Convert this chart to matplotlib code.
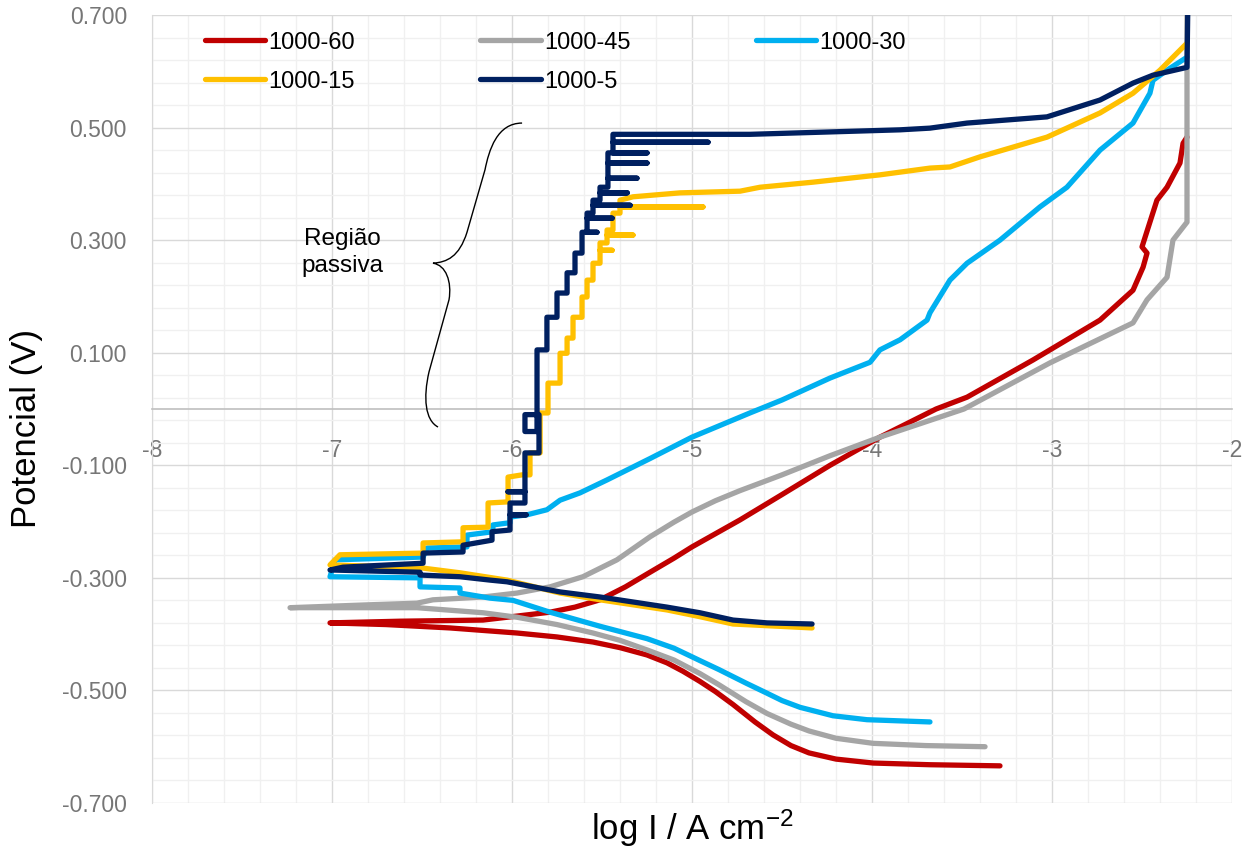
import matplotlib.pyplot as plt
from matplotlib.path import Path
from matplotlib.patches import PathPatch
from matplotlib.ticker import MultipleLocator, FixedLocator, FuncFormatter

plt.rcParams['font.family'] = ['Liberation Sans', 'DejaVu Sans']
plt.rcParams['mathtext.fontset'] = 'custom'
plt.rcParams['mathtext.rm'] = 'Liberation Sans'
plt.rcParams['mathtext.default'] = 'regular'

# curve: ramo catodico (da destra verso Ecorr) poi ramo anodico
x60 = [-3.289, -3.678, -3.994, -4.2, -4.35, -4.45, -4.55, -4.65, -4.772, -4.87, -4.956, -5.05, -5.139, -5.25,
       -5.4, -5.55, -5.75, -5.972, -6.344, -6.7, -7.011,
       -6.622, -6.161, -5.789, -5.65, -5.511, -5.37, -5.233, -5.1, -5.0, -4.733, -4.5, -4.233, -3.956, -3.644,
       -3.472, -3.106, -2.733, -2.55, -2.494, -2.472, -2.5, -2.417, -2.361, -2.289, -2.272, -2.25]
y60 = [-0.634, -0.632, -0.629, -0.622, -0.611, -0.598, -0.579, -0.556, -0.525, -0.502, -0.484, -0.466, -0.451, -0.437,
       -0.424, -0.414, -0.405, -0.398, -0.389, -0.383, -0.380,
       -0.377, -0.375, -0.361, -0.352, -0.339, -0.316, -0.290, -0.265, -0.245, -0.197, -0.152, -0.100, -0.050, 0.0,
       0.021, 0.087, 0.158, 0.211, 0.252, 0.277, 0.288, 0.371, 0.394, 0.437, 0.472, 0.483]

x45 = [-3.372, -3.7, -3.994, -4.2, -4.35, -4.45, -4.583, -4.7, -4.85, -4.956, -5.1, -5.25, -5.4, -5.55, -5.75,
       -5.972, -6.161, -6.528, -7.233,
       -6.806, -6.528, -6.439, -6.161, -5.972, -5.789, -5.606, -5.417, -5.233, -5.1, -5.0, -4.87, -4.733, -4.5,
       -4.233, -3.956, -3.489, -3.011, -2.55, -2.472, -2.361, -2.328, -2.25, -2.25]
y45 = [-0.600, -0.598, -0.594, -0.585, -0.572, -0.560, -0.541, -0.520, -0.490, -0.470, -0.446, -0.428, -0.411, -0.398,
       -0.383, -0.370, -0.362, -0.353, -0.353,
       -0.348, -0.345, -0.339, -0.334, -0.327, -0.316, -0.298, -0.268, -0.227, -0.201, -0.183, -0.163, -0.145, -0.117,
       -0.083, -0.050, 0.0, 0.082, 0.153, 0.194, 0.234, 0.300, 0.332, 0.75]

x30 = [-3.678, -4.028, -4.217, -4.4, -4.5, -4.583, -4.7, -4.85, -4.956, -5.1, -5.25, -5.511, -5.789, -5.994, -6.122,
       -6.289, -6.289, -6.511, -6.511, -7.011,
       -6.983, -6.494, -6.472, -6.25, -6.25, -6.106, -6.106, -6.011, -6.011, -5.917, -5.806, -5.733, -5.622, -5.472,
       -5.233, -5.0, -4.678, -4.5, -4.233, -4.011, -3.956, -3.844, -3.694, -3.678, -3.567, -3.472, -3.289, -3.067,
       -2.917, -2.733, -2.55, -2.456, -2.439, -2.361, -2.25]
y30 = [-0.556, -0.552, -0.545, -0.530, -0.518, -0.505, -0.487, -0.463, -0.447, -0.425, -0.408, -0.386, -0.361, -0.340,
       -0.336, -0.327, -0.318, -0.316, -0.300, -0.298,
       -0.268, -0.263, -0.247, -0.245, -0.224, -0.218, -0.206, -0.202, -0.192, -0.188, -0.179, -0.162, -0.149, -0.126,
       -0.088, -0.050, -0.007, 0.016, 0.055, 0.083, 0.105, 0.123, 0.158, 0.171, 0.229, 0.259, 0.300, 0.359,
       0.394, 0.460, 0.508, 0.561, 0.584, 0.602, 0.625]

x15 = [-4.333, -4.583, -4.772, -4.956, -5.139, -5.511, -5.733, -6.028, -6.289, -6.511, -7.011,
       -6.956, -6.494, -6.494, -6.272, -6.272, -6.133, -6.133, -6.022, -6.022, -5.944, -5.9, -5.9, -5.844, -5.844,
       -5.8, -5.8, -5.733, -5.733, -5.694, -5.694, -5.661, -5.661, -5.611, -5.611, -5.583, -5.583, -5.55, -5.55,
       -5.511, -5.511, -5.444, -5.511, -5.511, -5.472, -5.472, -5.328, -5.472, -5.472, -5.439, -5.439, -5.4, -5.4,
       -4.939, -5.4, -5.4, -5.328, -5.067, -4.733, -4.622, -4.328, -3.956, -3.678, -3.567, -3.4, -3.028, -2.733,
       -2.55, -2.4, -2.25]
y15 = [-0.389, -0.385, -0.382, -0.369, -0.357, -0.339, -0.327, -0.304, -0.291, -0.282, -0.277,
       -0.259, -0.256, -0.238, -0.236, -0.211, -0.210, -0.167, -0.165, -0.121, -0.117, -0.117, -0.078, -0.078, -0.007,
       -0.007, 0.046, 0.046, 0.099, 0.099, 0.126, 0.126, 0.163, 0.163, 0.199, 0.199, 0.229, 0.229, 0.259,
       0.259, 0.282, 0.282, 0.282, 0.295, 0.295, 0.309, 0.309, 0.309, 0.318, 0.318, 0.348, 0.348, 0.359,
       0.359, 0.359, 0.371, 0.377, 0.384, 0.387, 0.394, 0.403, 0.416, 0.428, 0.430, 0.448, 0.483, 0.526,
       0.561, 0.602, 0.650]

x5 = [-4.333, -4.583, -4.772, -4.956, -5.139, -5.511, -5.733, -6.028, -6.122, -6.289, -6.511, -6.511, -7.011,
      -6.939, -6.494, -6.494, -6.272, -6.272, -6.111, -6.111, -6.011, -6.011, -5.922, -6.011, -6.011, -5.928, -5.928,
      -6.022, -5.928, -5.928, -5.85, -5.85, -5.928, -5.928, -5.861, -5.861, -5.806, -5.806, -5.75, -5.75, -5.694,
      -5.694, -5.65, -5.65, -5.611, -5.611, -5.528, -5.583, -5.583, -5.444, -5.583, -5.583, -5.55, -5.55, -5.344,
      -5.55, -5.55, -5.511, -5.511, -5.36, -5.511, -5.511, -5.467, -5.467, -5.306, -5.467, -5.467, -5.25, -5.467,
      -5.467, -5.25, -5.439, -5.439, -4.911, -5.439, -5.439, -4.678, -3.844, -3.678, -3.472, -3.028, -2.733, -2.55,
      -2.44, -2.25, -2.244]
y5 = [-0.382, -0.380, -0.375, -0.362, -0.352, -0.334, -0.325, -0.307, -0.304, -0.298, -0.295, -0.290, -0.286,
      -0.281, -0.274, -0.256, -0.254, -0.242, -0.233, -0.218, -0.215, -0.188, -0.188, -0.188, -0.167, -0.167, -0.147,
      -0.147, -0.147, -0.078, -0.078, -0.010, -0.010, -0.040, -0.040, 0.105, 0.105, 0.163, 0.163, 0.206, 0.206,
      0.242, 0.242, 0.277, 0.277, 0.314, 0.314, 0.314, 0.339, 0.339, 0.339, 0.348, 0.348, 0.362, 0.362,
      0.362, 0.371, 0.371, 0.384, 0.384, 0.384, 0.394, 0.394, 0.410, 0.410, 0.410, 0.437, 0.437, 0.437,
      0.455, 0.455, 0.455, 0.474, 0.474, 0.474, 0.488, 0.488, 0.496, 0.499, 0.508, 0.519, 0.549, 0.579,
      0.593, 0.607, 0.75]

etichette = ['1000-60', '1000-45', '1000-30', '1000-15', '1000-5']
colori = ['#C00000', '#A5A5A5', '#00B0F0', '#FFC000', '#002060']

# graffa "Regione passiva" (coordinate dati)
graffa = [(-5.944, 0.508), (-6.083, 0.508), (-6.128, 0.460), (-6.150, 0.425),
          (-6.250, 0.314),
          (-6.294, 0.270), (-6.361, 0.261), (-6.439, 0.259),
          (-6.367, 0.256), (-6.333, 0.226), (-6.350, 0.194),
          (-6.461, 0.066),
          (-6.494, 0.020), (-6.483, -0.020), (-6.411, -0.032)]
codici = [Path.MOVETO, Path.CURVE4, Path.CURVE4, Path.CURVE4, Path.LINETO,
          Path.CURVE4, Path.CURVE4, Path.CURVE4, Path.CURVE4, Path.CURVE4, Path.CURVE4,
          Path.LINETO, Path.CURVE4, Path.CURVE4, Path.CURVE4]

fig = plt.figure(figsize=(12.48, 8.49), dpi=100)
ax = fig.add_axes([152 / 1248, 46 / 849, 1080 / 1248, 788 / 849])

linee = []
for xs, ys, lab, col in zip([x60, x45, x30, x15, x5], [y60, y45, y30, y15, y5], etichette, colori):
    l, = ax.plot(xs, ys, color=col, lw=3.8, label=lab, solid_capstyle='round', solid_joinstyle='round', zorder=3)
    linee.append(l)

ax.add_patch(PathPatch(Path(graffa, codici), fill=False, lw=1.0, edgecolor='black', zorder=4))
ax.text(-6.944, 0.278, 'Região\npassiva', ha='center', va='center', fontsize=17.5, linespacing=1.25, zorder=4)

ax.set_xlim(-8, -2)
ax.set_ylim(-0.7, 0.7)
ax.xaxis.set_major_locator(MultipleLocator(1))
ax.xaxis.set_minor_locator(MultipleLocator(0.2))
ax.yaxis.set_major_locator(FixedLocator([-0.7, -0.5, -0.3, -0.1, 0.1, 0.3, 0.5, 0.7]))
ax.yaxis.set_minor_locator(FixedLocator([-0.7 + 0.04 * i for i in range(36)]))
ax.xaxis.set_major_formatter(FuncFormatter(lambda v, p: '%d' % round(v)))
ax.yaxis.set_major_formatter(FuncFormatter(lambda v, p: '%.3f' % v))

ax.grid(which='major', color='#d9d9d9', lw=1.0, zorder=0)
ax.grid(which='minor', color='#f0f0f0', lw=1.0, zorder=0)
ax.set_axisbelow(True)

for s in ['top', 'right']:
    ax.spines[s].set_visible(False)
ax.spines['left'].set_color('#d9d9d9')
ax.spines['bottom'].set_position(('data', 0))
ax.spines['bottom'].set_color('#bfbfbf')
ax.spines['bottom'].set_linewidth(1.2)

ax.tick_params(which='both', length=0, labelsize=16.5, labelcolor='#767676')
ax.tick_params(axis='x', pad=21.5)
ax.tick_params(axis='y', pad=18)

ax.set_ylabel('Potencial (V)', fontsize=25, va='center')
ax.yaxis.set_label_coords((27 - 152) / 1080, (803 - 428) / 788)
ax.set_xlabel('log I / A cm$^{-2}$', fontsize=25, va='center')
ax.xaxis.set_label_coords(0.5, (803 - 828) / 788)

# ordine per righe: 60 45 30 / 15 5
ordine = [0, 3, 1, 4, 2]
ax.legend(handles=[linee[i] for i in ordine], ncol=3, loc='upper left', bbox_to_anchor=(0.049, 0.979),
          frameon=False, fontsize=17, handlelength=2.55, handletextpad=0.15, columnspacing=5.3,
          labelspacing=0.72, borderpad=0, borderaxespad=0)

plt.savefig('out.png', dpi=100)
